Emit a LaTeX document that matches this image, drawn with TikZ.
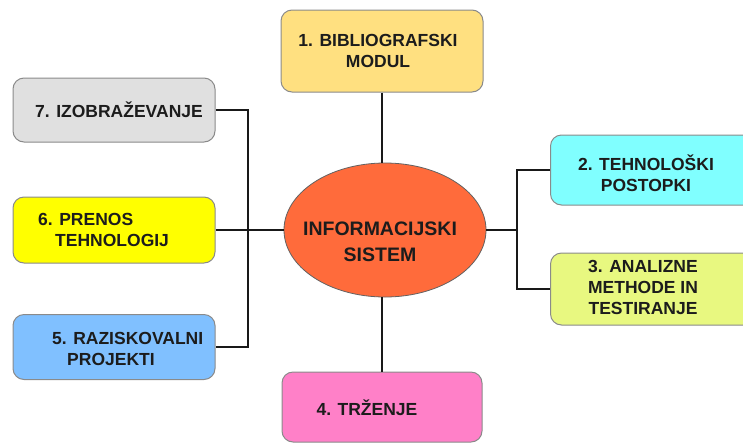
\documentclass[tikz,border=0pt]{standalone}
\usepackage{fontspec}
\setmainfont{Liberation Sans}
\usetikzlibrary{shapes.geometric}

\definecolor{cBib}{HTML}{FFE080}
\definecolor{cTeh}{HTML}{80FFFF}
\definecolor{cAna}{HTML}{E8F880}
\definecolor{cTrz}{HTML}{FF80C8}
\definecolor{cRaz}{HTML}{80C0FF}
\definecolor{cPre}{HTML}{FFFF00}
\definecolor{cIzo}{HTML}{E0E0E0}
\definecolor{cSis}{HTML}{FF6B3B}
\definecolor{cEdge}{HTML}{8A8A8A}
\definecolor{cInk}{HTML}{1C1C1C}

\tikzset{
  box/.style={draw=cEdge, line width=1pt, rounded corners=11pt, inner sep=0pt},
  lbl/.style={font=\bfseries\fontsize{17.5}{21}\selectfont, text=cInk, inner sep=0pt},
  conn/.style={line width=2.5pt, draw=black!90},
}

\begin{document}
\begin{tikzpicture}[x=1pt, y=-1pt]
  \useasboundingbox (0,0) rectangle (743,445);
  \clip (0,0) rectangle (743,445);

  % central node
  \node[ellipse, draw=cEdge!70!black, line width=0.8pt, fill=cSis,
        minimum width=202pt, minimum height=134pt, inner sep=0pt] (sis) at (385,230) {};
  \node[lbl, font=\bfseries\fontsize{19.5}{26}\selectfont, align=center] (tsis) at (380,242)
    {INFORMACIJSKI\\SISTEM};

  % surrounding modules
  \node[box, fill=cBib, minimum width=202pt, minimum height=82pt] (b1) at (382,51) {};
  \node[lbl, align=center] (t1) at (378,51) {1. BIBLIOGRAFSKI\\MODUL};

  \node[box, fill=cTeh, minimum width=220pt, minimum height=70pt, anchor=west] (b2) at (550,170) {};
  \node[lbl, align=center] (t2) at (646,173) {2. TEHNOLOŠKI\\POSTOPKI};

  \node[box, fill=cAna, minimum width=220pt, minimum height=72pt, anchor=west] (b3) at (550,289) {};
  \node[lbl, align=center] (t3) at (643,287) {3. ANALIZNE\\METHODE IN\\TESTIRANJE};

  \node[box, fill=cTrz, minimum width=200pt, minimum height=70pt] (b4) at (382,407) {};
  \node[lbl] (t4) at (367,408) {4. TRŽENJE};

  \node[box, fill=cRaz, minimum width=202pt, minimum height=65pt] (b5) at (114,347) {};
  \node[lbl, align=left, anchor=west] (t5) at (52,349) {5. RAZISKOVALNI\\\hspace*{15pt}PROJEKTI};

  \node[box, fill=cPre, minimum width=202pt, minimum height=66pt] (b6) at (114,230) {};
  \node[lbl, align=left, anchor=west] (t6) at (38,230) {6. PRENOS\\\hspace*{17pt}TEHNOLOGIJ};

  \node[box, fill=cIzo, minimum width=202pt, minimum height=64pt] (b7) at (114,110) {};
  \node[lbl] (t7) at (119,110) {7. IZOBRAŽEVANJE};

  % junction points of the side connectors
  \coordinate (lj) at (248,230);
  \coordinate (rj) at (517,230);

  % connectors
  \draw[conn] (b1.south) -- (b1.south |- sis.north);
  \draw[conn] (b4.north) -- (b4.north |- sis.south);
  \draw[conn] (b6.east) -- (sis.west);
  \draw[conn] (b7.east) -| (lj) |- (b5.east);
  \draw[conn] (sis.east) -- (rj);
  \draw[conn] (b2.west) -| (rj) |- (b3.west);
\end{tikzpicture}
\end{document}
